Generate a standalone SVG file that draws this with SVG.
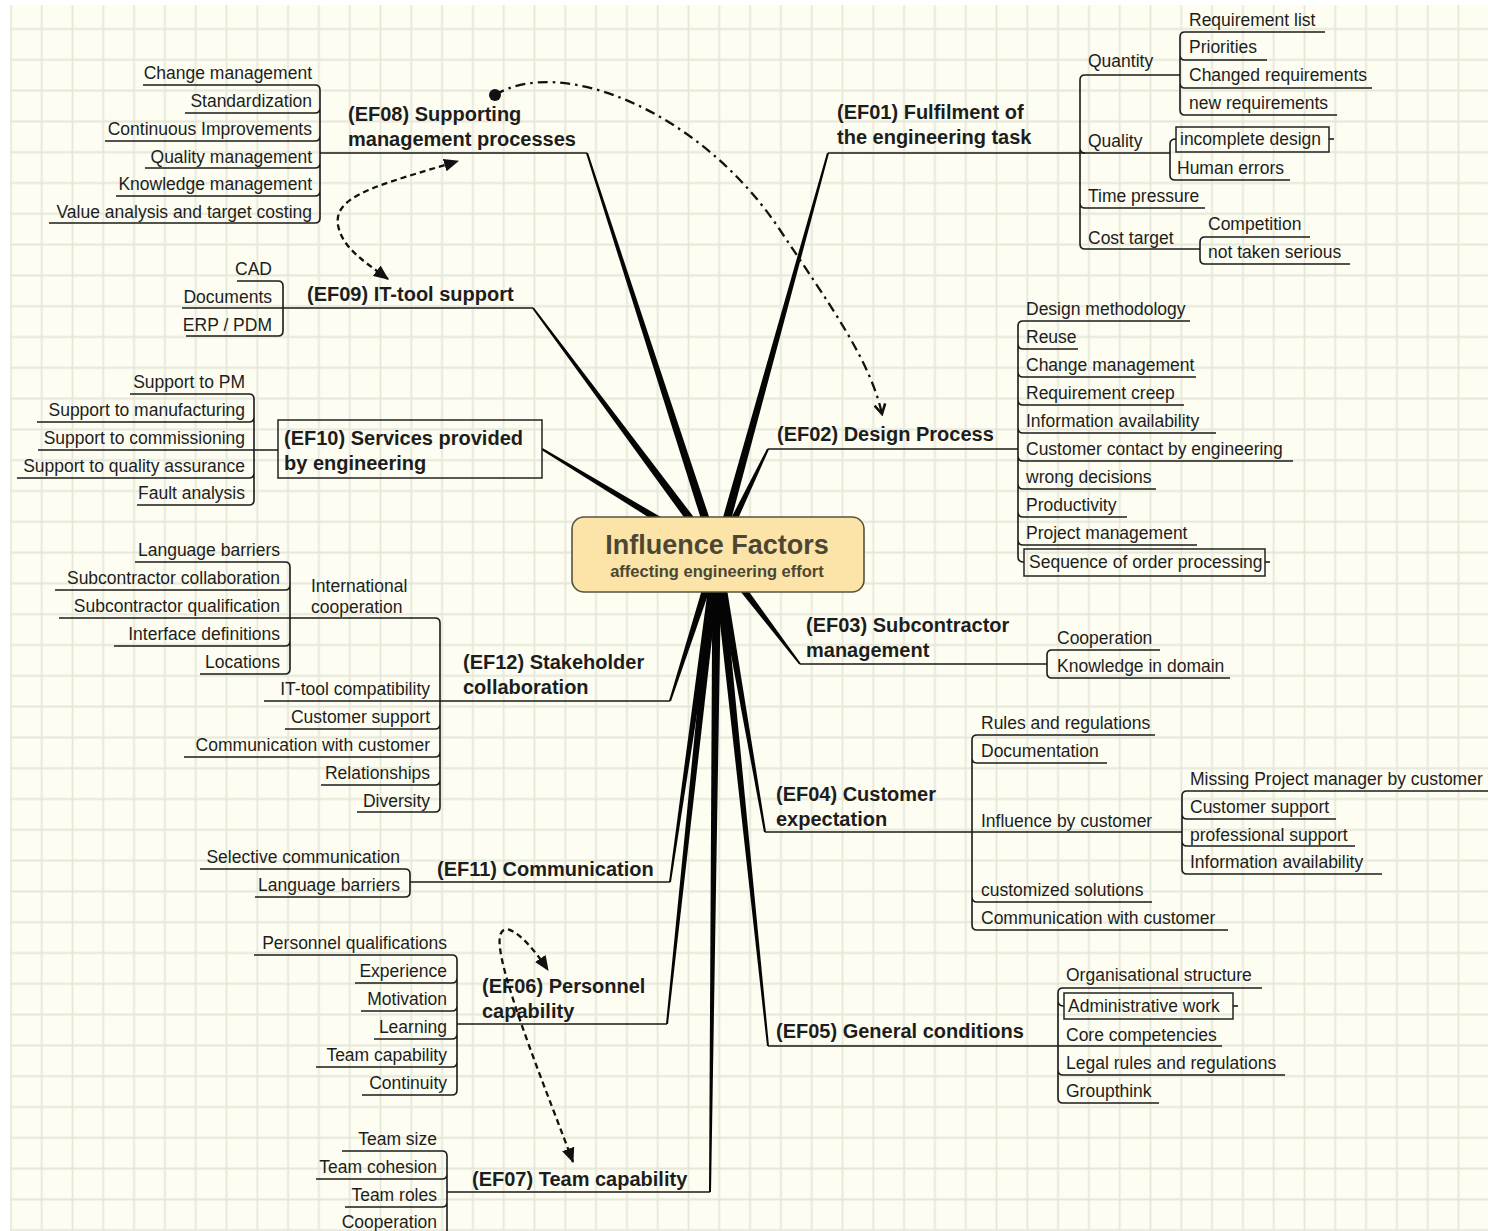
<svg xmlns="http://www.w3.org/2000/svg" width="1488" height="1231" viewBox="0 0 1488 1231">
<defs>
<style>
.n text{font-family:"Liberation Sans",Arial,sans-serif;font-size:17.5px;fill:#1d1d1d}
.n.e text{text-anchor:end}
.n path,.ln{fill:none;stroke:#1a1a1a;stroke-width:1.6}
.n rect,.m rect{fill:none;stroke:#222;stroke-width:1.5}
.m text{font-family:"Liberation Sans",Arial,sans-serif;font-size:20px;font-weight:bold;fill:#1d1d1d}
.th{fill:#050505}
.rel{fill:none;stroke:#111;stroke-width:2.3}
.root text{font-family:"Liberation Sans",Arial,sans-serif;font-weight:bold;fill:#4b4733;text-anchor:middle}
</style>
<pattern id="grid" patternUnits="userSpaceOnUse" x="26.3" y="13.6" width="30.8" height="30.8">
<path d="M15.4 0V30.8M0 15.4H30.8" stroke="#e5e7d9" stroke-width="1.8" fill="none"/>
</pattern>
<marker id="tri" viewBox="0 0 14 12" refX="13" refY="6" markerWidth="15" markerHeight="13" markerUnits="userSpaceOnUse" orient="auto-start-reverse"><path d="M0 0L14 6L0 12z" fill="#111"/></marker>
<marker id="vee" viewBox="0 0 12 12" refX="10" refY="6" markerWidth="13" markerHeight="13" markerUnits="userSpaceOnUse" orient="auto"><path d="M1 1L10 6L1 11" fill="none" stroke="#111" stroke-width="2.4"/></marker>
</defs>

<!-- paper -->
<rect width="1488" height="1231" fill="#ffffff"/>
<rect x="10" y="5" width="1478" height="1226" fill="#fdfdf1"/>
<rect x="10" y="5" width="1478" height="1226" fill="url(#grid)"/>

<g id="connectors">
<!-- tapered main branches from the central topic -->
<polygon class="th" points="721.4,556.2 829,153.3 827,152.7 712.6,553.8"/>
<polygon class="th" points="721,556.9 768.9,449.4 767.1,448.6 713,553.1"/>
<polygon class="th" points="713.4,557.7 799.2,664.6 800.8,663.4 720.6,552.3"/>
<polygon class="th" points="712.6,555.8 764,832.2 766,831.8 721.4,554.2"/>
<polygon class="th" points="712.5,555.5 767,1046.1 769,1045.9 721.5,554.5"/>
<polygon class="th" points="712.5,555 709,1192 711,1192 721.5,555"/>
<polygon class="th" points="712.5,554.5 666,1023.9 668,1024.1 721.5,555.5"/>
<polygon class="th" points="712.5,554.4 669,881.9 671,882.1 721.5,555.6"/>
<polygon class="th" points="712.7,553.6 669,700.7 671,701.3 721.3,556.4"/>
<polygon class="th" points="719.3,551.1 542.5,448.1 541.5,449.9 714.7,558.9"/>
<polygon class="th" points="720.6,552.3 533.8,307.4 532.2,308.6 713.4,557.7"/>
<polygon class="th" points="721.3,553.6 588,152.7 586,153.3 712.7,556.4"/>
<!-- branch underlines leading to the brackets -->
<path class="ln" d="M828 153H1080M768 449H1018M800 664H1047M765 832H972M768 1046H1058M447 1192H710M457 1024H667M410 882H670M440 701H670M254 450H278M283 308H533M320 153H587"/>
<!-- brackets -->
<path class="ln" d="M1085 75Q1080 75 1080 80V244Q1080 249 1085 249M1080 148Q1080 153 1085 153M1080 203Q1080 208 1085 208"/>
<path class="ln" d="M1185 32Q1180 32 1180 37V110Q1180 115 1185 115M1180 55Q1180 60 1185 60M1180 83Q1180 88 1185 88"/>
<path class="ln" d="M1176 139Q1170 139 1170 144V175Q1170 180 1175 180"/>
<path class="ln" d="M1205 237Q1200 237 1200 242V259Q1200 264 1205 264"/>
<path class="ln" d="M1023 321Q1018 321 1018 326V557Q1018 562 1024 562M1018 344Q1018 349 1023 349M1018 372Q1018 377 1023 377M1018 400Q1018 405 1023 405M1018 428Q1018 433 1023 433M1018 456Q1018 461 1023 461M1018 484Q1018 489 1023 489M1018 512Q1018 517 1023 517M1018 540Q1018 545 1023 545"/>
<path class="ln" d="M1052 650Q1047 650 1047 655V673Q1047 678 1052 678"/>
<path class="ln" d="M977 735Q972 735 972 740V925Q972 930 977 930M972 758Q972 763 977 763M972 897Q972 902 977 902"/>
<path class="ln" d="M1187 791Q1182 791 1182 796V869Q1182 874 1187 874M1182 814Q1182 819 1187 819M1182 841Q1182 846 1187 846"/>
<path class="ln" d="M1063 988Q1058 988 1058 993V1098Q1058 1103 1063 1103M1058 1001Q1058 1006 1064 1006M1058 1070Q1058 1075 1063 1075"/>
<path class="ln" d="M442 1151Q447 1151 447 1156V1240M447 1174Q447 1179 442 1179M447 1202Q447 1207 442 1207M447 1230Q447 1235 442 1235"/>
<path class="ln" d="M452 955Q457 955 457 960V1090Q457 1095 452 1095M457 978Q457 983 452 983M457 1006Q457 1011 452 1011M457 1034Q457 1039 452 1039M457 1062Q457 1067 452 1067"/>
<path class="ln" d="M405 869Q410 869 410 874V892Q410 897 405 897"/>
<path class="ln" d="M435 618Q440 618 440 623V807Q440 812 435 812M440 724Q440 729 435 729M440 752Q440 757 435 757M440 780Q440 785 435 785"/>
<path class="ln" d="M285 562Q290 562 290 567V669Q290 674 285 674M290 585Q290 590 285 590M290 641Q290 646 285 646"/>
<path class="ln" d="M249 394Q254 394 254 399V500Q254 505 249 505M254 417Q254 422 249 422M254 473Q254 478 249 478"/>
<path class="ln" d="M278 281Q283 281 283 286V331Q283 336 278 336"/>
<path class="ln" d="M315 85Q320 85 320 90V218Q320 223 315 223M320 108Q320 113 315 113M320 136Q320 141 315 141M320 163Q320 168 315 168M320 191Q320 196 315 196"/>
</g>

<!-- central topic -->
<g id="root" class="root">
<rect x="572" y="517" width="292" height="75" rx="12" fill="#fce4a8" stroke="#55533f" stroke-width="1.6"/>
<text x="717" y="554" font-size="27px">Influence Factors</text>
<text x="717" y="577" font-size="16.5px">affecting engineering effort</text>
</g>

<!-- EF01 -->
<g id="ef01" class="m"><text x="837" y="119">(EF01) Fulfilment of</text><text x="837" y="144">the engineering task</text></g>
<g id="n-quantity" class="n"><text x="1088" y="67">Quantity</text><path d="M1085 75H1180"/></g>
<g id="n-quality" class="n"><text x="1088" y="147">Quality</text><path d="M1080 153H1170"/></g>
<g id="n-time-pressure" class="n"><text x="1088" y="202">Time pressure</text><path d="M1085 208H1205"/></g>
<g id="n-cost-target" class="n"><text x="1088" y="244">Cost target</text><path d="M1085 249H1200"/></g>
<g id="n-requirement-list" class="n"><text x="1189" y="26">Requirement list</text><path d="M1185 32H1325"/></g>
<g id="n-priorities" class="n"><text x="1189" y="53">Priorities</text><path d="M1185 60H1267"/></g>
<g id="n-changed-requirements" class="n"><text x="1189" y="81">Changed requirements</text><path d="M1185 88H1372"/></g>
<g id="n-new-requirements" class="n"><text x="1189" y="109">new requirements</text><path d="M1185 115H1337"/></g>
<g id="n-incomplete-design" class="n"><rect x="1176" y="127" width="153" height="25"/><text x="1180" y="145">incomplete design</text><path d="M1329 139H1334"/></g>
<g id="n-human-errors" class="n"><text x="1177" y="174">Human errors</text><path d="M1175 180H1290"/></g>
<g id="n-competition" class="n"><text x="1208" y="230">Competition</text><path d="M1205 237H1310"/></g>
<g id="n-not-taken-serious" class="n"><text x="1208" y="258">not taken serious</text><path d="M1205 264H1350"/></g>

<!-- EF02 -->
<g id="ef02" class="m"><text x="777" y="441">(EF02) Design Process</text></g>
<g id="n-design-methodology" class="n"><text x="1026" y="315">Design methodology</text><path d="M1023 321H1190"/></g>
<g id="n-reuse" class="n"><text x="1026" y="343">Reuse</text><path d="M1023 349H1078"/></g>
<g id="n-change-management-dp" class="n"><text x="1026" y="371">Change management</text><path d="M1023 377H1196"/></g>
<g id="n-requirement-creep" class="n"><text x="1026" y="399">Requirement creep</text><path d="M1023 405H1184"/></g>
<g id="n-information-availability-dp" class="n"><text x="1026" y="427">Information availability</text><path d="M1023 433H1216"/></g>
<g id="n-customer-contact" class="n"><text x="1026" y="455">Customer contact by engineering</text><path d="M1023 461H1293"/></g>
<g id="n-wrong-decisions" class="n"><text x="1026" y="483">wrong decisions</text><path d="M1023 489H1156"/></g>
<g id="n-productivity" class="n"><text x="1026" y="511">Productivity</text><path d="M1023 517H1127"/></g>
<g id="n-project-management" class="n"><text x="1026" y="539">Project management</text><path d="M1023 545H1197"/></g>
<g id="n-sequence" class="n"><rect x="1024" y="549" width="241" height="27"/><text x="1029" y="568">Sequence of order processing</text><path d="M1265 562H1270"/></g>

<!-- EF03 -->
<g id="ef03" class="m"><text x="806" y="632">(EF03) Subcontractor</text><text x="806" y="657">management</text></g>
<g id="n-cooperation-sc" class="n"><text x="1057" y="644">Cooperation</text><path d="M1052 650H1160"/></g>
<g id="n-knowledge-in-domain" class="n"><text x="1057" y="672">Knowledge in domain</text><path d="M1052 678H1230"/></g>

<!-- EF04 -->
<g id="ef04" class="m"><text x="776" y="801">(EF04) Customer</text><text x="776" y="826">expectation</text></g>
<g id="n-rules-and-regulations" class="n"><text x="981" y="729">Rules and regulations</text><path d="M977 735H1155"/></g>
<g id="n-documentation" class="n"><text x="981" y="757">Documentation</text><path d="M977 763H1107"/></g>
<g id="n-influence-by-customer" class="n"><text x="981" y="827">Influence by customer</text><path d="M972 832H1182"/></g>
<g id="n-customized-solutions" class="n"><text x="981" y="896">customized solutions</text><path d="M977 902H1152"/></g>
<g id="n-communication-with-customer-ce" class="n"><text x="981" y="924">Communication with customer</text><path d="M977 930H1228"/></g>
<g id="n-missing-pm" class="n"><text x="1190" y="785">Missing Project manager by customer</text><path d="M1187 791H1488"/></g>
<g id="n-customer-support-ce" class="n"><text x="1190" y="813">Customer support</text><path d="M1187 819H1336"/></g>
<g id="n-professional-support" class="n"><text x="1190" y="841">professional support</text><path d="M1187 846H1355"/></g>
<g id="n-information-availability-ce" class="n"><text x="1190" y="868">Information availability</text><path d="M1187 874H1382"/></g>

<!-- EF05 -->
<g id="ef05" class="m"><text x="776" y="1038">(EF05) General conditions</text></g>
<g id="n-organisational-structure" class="n"><text x="1066" y="981">Organisational structure</text><path d="M1063 988H1262"/></g>
<g id="n-administrative-work" class="n"><rect x="1064" y="993" width="169" height="26"/><text x="1068" y="1012">Administrative work</text><path d="M1233 1006H1238"/></g>
<g id="n-core-competencies" class="n"><text x="1066" y="1041">Core competencies</text><path d="M1058 1046H1222"/></g>
<g id="n-legal-rules" class="n"><text x="1066" y="1069">Legal rules and regulations</text><path d="M1063 1075H1285"/></g>
<g id="n-groupthink" class="n"><text x="1066" y="1097">Groupthink</text><path d="M1063 1103H1159"/></g>

<!-- EF06 -->
<g id="ef06" class="m"><text x="482" y="993">(EF06) Personnel</text><text x="482" y="1018">capability</text></g>
<g id="n-personnel-qualifications" class="n e"><text x="447" y="949">Personnel qualifications</text><path d="M254 955H452"/></g>
<g id="n-experience" class="n e"><text x="447" y="977">Experience</text><path d="M355 983H452"/></g>
<g id="n-motivation" class="n e"><text x="447" y="1005">Motivation</text><path d="M361 1011H452"/></g>
<g id="n-learning" class="n e"><text x="447" y="1033">Learning</text><path d="M374 1039H452"/></g>
<g id="n-team-capability-pc" class="n e"><text x="447" y="1061">Team capability</text><path d="M316 1067H452"/></g>
<g id="n-continuity" class="n e"><text x="447" y="1089">Continuity</text><path d="M362 1095H452"/></g>

<!-- EF07 -->
<g id="ef07" class="m"><text x="472" y="1186">(EF07) Team capability</text></g>
<g id="n-team-size" class="n e"><text x="437" y="1145">Team size</text><path d="M342 1151H442"/></g>
<g id="n-team-cohesion" class="n e"><text x="437" y="1173">Team cohesion</text><path d="M316 1179H442"/></g>
<g id="n-team-roles" class="n e"><text x="437" y="1201">Team roles</text><path d="M345 1207H442"/></g>
<g id="n-cooperation-tc" class="n e"><text x="437" y="1228">Cooperation</text><path d="M337 1235H442"/></g>

<!-- EF08 -->
<g id="ef08" class="m"><text x="348" y="121">(EF08) Supporting</text><text x="348" y="146">management processes</text></g>
<g id="n-change-management-mp" class="n e"><text x="312" y="79">Change management</text><path d="M143 85H315"/></g>
<g id="n-standardization" class="n e"><text x="312" y="107">Standardization</text><path d="M185 113H315"/></g>
<g id="n-continuous-improvements" class="n e"><text x="312" y="135">Continuous Improvements</text><path d="M105 141H315"/></g>
<g id="n-quality-management" class="n e"><text x="312" y="163">Quality management</text><path d="M145 168H315"/></g>
<g id="n-knowledge-management" class="n e"><text x="312" y="190">Knowledge management</text><path d="M116 196H315"/></g>
<g id="n-value-analysis" class="n e"><text x="312" y="218">Value analysis and target costing</text><path d="M49 223H315"/></g>

<!-- EF09 -->
<g id="ef09" class="m"><text x="307" y="301">(EF09) IT-tool support</text></g>
<g id="n-cad" class="n e"><text x="272" y="275">CAD</text><path d="M237 281H278"/></g>
<g id="n-documents" class="n e"><text x="272" y="303">Documents</text><path d="M182 308H283"/></g>
<g id="n-erp-pdm" class="n e"><text x="272" y="331">ERP / PDM</text><path d="M186 336H278"/></g>

<!-- EF10 -->
<g id="ef10" class="m"><rect x="278" y="420" width="264" height="58"/><text x="284" y="445">(EF10) Services provided</text><text x="284" y="470">by engineering</text></g>
<g id="n-support-to-pm" class="n e"><text x="245" y="388">Support to PM</text><path d="M130 394H249"/></g>
<g id="n-support-to-manufacturing" class="n e"><text x="245" y="416">Support to manufacturing</text><path d="M37 422H249"/></g>
<g id="n-support-to-commissioning" class="n e"><text x="245" y="444">Support to commissioning</text><path d="M38 450H254"/></g>
<g id="n-support-to-quality-assurance" class="n e"><text x="245" y="472">Support to quality assurance</text><path d="M17 478H249"/></g>
<g id="n-fault-analysis" class="n e"><text x="245" y="499">Fault analysis</text><path d="M137 505H249"/></g>

<!-- EF11 -->
<g id="ef11" class="m"><text x="437" y="876">(EF11) Communication</text></g>
<g id="n-selective-communication" class="n e"><text x="400" y="863">Selective communication</text><path d="M200 869H405"/></g>
<g id="n-language-barriers-co" class="n e"><text x="400" y="891">Language barriers</text><path d="M255 897H405"/></g>

<!-- EF12 -->
<g id="ef12" class="m"><text x="463" y="669">(EF12) Stakeholder</text><text x="463" y="694">collaboration</text></g>
<g id="n-international-cooperation" class="n"><text x="311" y="592">International</text><text x="311" y="613">cooperation</text><path d="M290 618H435"/></g>
<g id="n-it-tool-compatibility" class="n e"><text x="430" y="695">IT-tool compatibility</text><path d="M264 701H440"/></g>
<g id="n-customer-support-sh" class="n e"><text x="430" y="723">Customer support</text><path d="M285 729H435"/></g>
<g id="n-communication-with-customer-sh" class="n e"><text x="430" y="751">Communication with customer</text><path d="M184 757H435"/></g>
<g id="n-relationships" class="n e"><text x="430" y="779">Relationships</text><path d="M321 785H435"/></g>
<g id="n-diversity" class="n e"><text x="430" y="807">Diversity</text><path d="M357 812H435"/></g>
<g id="n-language-barriers-ic" class="n e"><text x="280" y="556">Language barriers</text><path d="M135 562H285"/></g>
<g id="n-subcontractor-collaboration" class="n e"><text x="280" y="584">Subcontractor collaboration</text><path d="M55 590H285"/></g>
<g id="n-subcontractor-qualification" class="n e"><text x="280" y="612">Subcontractor qualification</text><path d="M59 618H290"/></g>
<g id="n-interface-definitions" class="n e"><text x="280" y="640">Interface definitions</text><path d="M114 646H285"/></g>
<g id="n-locations" class="n e"><text x="280" y="668">Locations</text><path d="M200 674H285"/></g>

<!-- cross relationships -->
<g id="relations">
<path class="rel" d="M495 95C560 55 700 110 780 230C830 305 870 360 882 414" stroke-dasharray="10 5 2.5 5" marker-end="url(#vee)"/>
<circle cx="495" cy="95" r="6" fill="#111"/>
<path class="rel" d="M388 279C365 262 342 248 338 225C333 195 380 185 458 161" stroke-dasharray="6 4" marker-start="url(#tri)" marker-end="url(#tri)"/>
<path class="rel" d="M573 1162C550 1100 505 990 500 948C496 915 520 928 548 970" stroke-dasharray="6 4" marker-start="url(#tri)" marker-end="url(#tri)"/>
</g>
</svg>
